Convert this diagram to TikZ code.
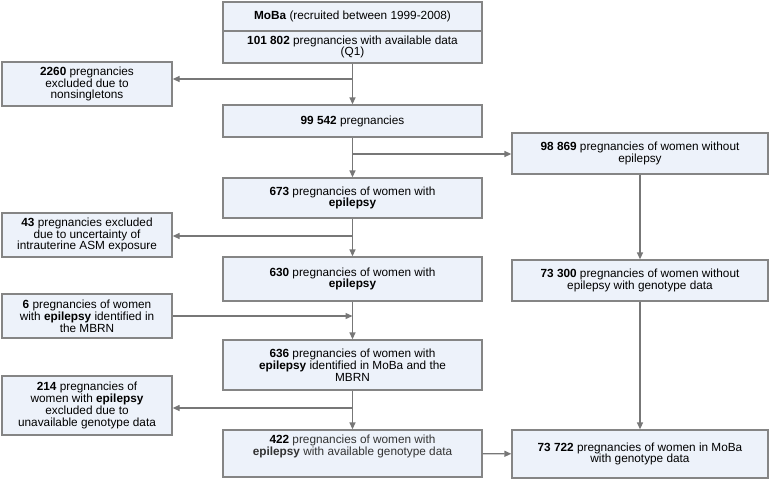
\documentclass[tikz,border=0pt]{standalone}
\usepackage{fontspec}
\setmainfont{Liberation Sans}
\usetikzlibrary{arrows.meta,positioning,calc}
\usepackage{xcolor}
\definecolor{boxfill}{HTML}{EDF2FA}
\definecolor{boxline}{HTML}{858585}
\definecolor{arrowgray}{HTML}{777777}
\tikzset{
  box/.style   = {rectangle, draw=boxline, line width=1.3pt, fill=boxfill, align=center,
                  font=\fontsize{11.8}{11.8}\selectfont, inner sep=2pt},
  flow/.style  = {-{Triangle[length=7pt,width=6pt]}, draw=arrowgray, fill=arrowgray, line width=1.3pt},
}

\begin{document}
\begin{tikzpicture}[x=1pt, y=-1pt]
    \useasboundingbox (0,0) rectangle (770,480);
    % main column
    \node[box, minimum width=259pt, minimum height=29pt] (moba) at (352.5,16.5) {\textbf{MoBa} (recruited between 1999-2008)};
    \node[box, minimum width=259pt, minimum height=32pt] (all) at (352.5,47)
      {\textbf{101 802} pregnancies with available data\\(Q1)};
    \node[box, minimum width=259pt, minimum height=32pt] (preg) at (352.5,121) {\textbf{99 542} pregnancies};
    \node[box, minimum width=259pt, minimum height=40pt] (epi) at (352.5,198) {\textbf{673} pregnancies of women with\\\textbf{epilepsy}};
    \node[box, minimum width=259pt, minimum height=44pt] (epiasm) at (352.5,279) {\textbf{630} pregnancies of women with\\\textbf{epilepsy}};
    \node[box, minimum width=259pt, minimum height=50pt] (epimbrn) at (352.5,365)
      {\textbf{636} pregnancies of women with\\\textbf{epilepsy} identified in MoBa and the\\MBRN};
    \node[box, minimum width=259pt, minimum height=47pt, text=black!80] (epigeno) at (352.5,453.5)
      {\textcolor{black}{\textbf{422}} pregnancies of women with\\\textbf{epilepsy} with available genotype data\\[4pt]};
    % left column
    \node[box, minimum width=170pt, minimum height=44pt] (exmulti) at (87,84) {\textbf{2260} pregnancies\\excluded due to\\nonsingletons};
    \node[box, minimum width=170pt, minimum height=44pt] (exasm) at (87,235) {\textbf{43} pregnancies excluded\\due to uncertainty of\\intrauterine ASM exposure};
    \node[box, minimum width=170pt, minimum height=44pt] (mbrn) at (87,316) {\textbf{6} pregnancies of women\\with \textbf{epilepsy} identified in\\the MBRN};
    \node[box, minimum width=170pt, minimum height=59pt] (exgeno) at (87,405.5) {\textbf{214} pregnancies of\\women with \textbf{epilepsy}\\excluded due to\\unavailable genotype data};
    % right column
    \node[box, minimum width=256pt, minimum height=41pt] (noepi) at (640,153.5) {\textbf{98 869} pregnancies of women without\\epilepsy};
    \node[box, minimum width=256pt, minimum height=41pt] (noepigeno) at (640,280.5) {\textbf{73 300} pregnancies of women without\\epilepsy with genotype data};
    \node[box, minimum width=256pt, minimum height=48pt] (final) at (640,454) {\textbf{73 722} pregnancies of women in MoBa\\with genotype data};

    % branch points
    \coordinate (b1) at (352.5,79);
    \coordinate (b2) at (352.5,154);
    \coordinate (b3) at (352.5,236);
    \coordinate (b4) at (352.5,408);

    \draw[flow] (all) -- (preg);
    \draw[flow] (b1) -- (b1 -| exmulti.east);
    \draw[flow] (preg) -- (epi);
    \draw[flow] (b2) -- (b2 -| noepi.west);
    \draw[flow] (epi) -- (epiasm);
    \draw[flow] (b3) -- (b3 -| exasm.east);
    \draw[flow] (epiasm) -- (epimbrn);
    \draw[flow] (mbrn.east) -- (mbrn.east -| epiasm.south);
    \draw[flow] (epimbrn) -- (epigeno);
    \draw[flow] (b4) -- (b4 -| exgeno.east);
    \draw[flow] (noepi) -- (noepigeno);
    \draw[flow] (noepigeno) -- (final);
    \draw[flow] (epigeno) -- (final);
  \end{tikzpicture}
\end{document}
